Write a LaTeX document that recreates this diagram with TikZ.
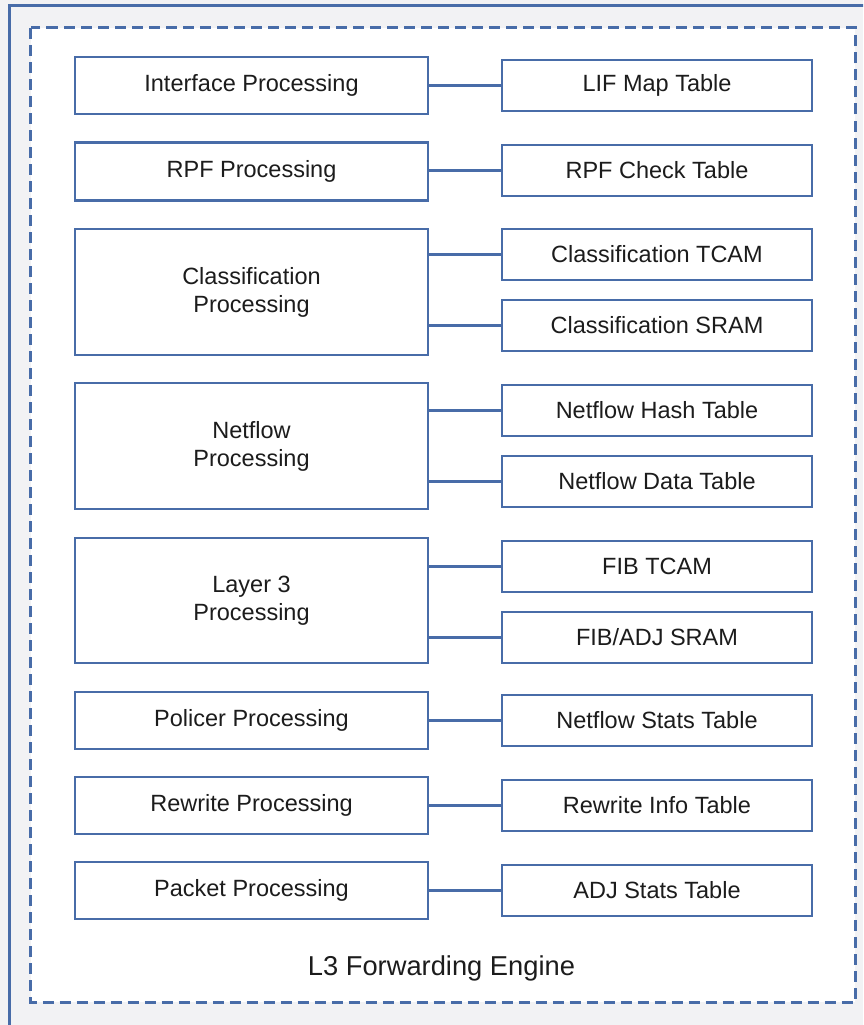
\documentclass[tikz,border=0pt]{standalone}
\usepackage{fontspec}
\setmainfont{Liberation Sans}
\definecolor{frameblue}{RGB}{72,108,168}
\definecolor{panelgrey}{RGB}{242,242,244}
\definecolor{inktext}{RGB}{28,28,28}
\tikzset{
  unitbox/.style={draw=frameblue, line width=2.8pt, fill=white, inner sep=0pt,
    align=center, text=inktext, font=\fontsize{23.5}{28}\selectfont},
  procbox/.style={unitbox, minimum width=353pt},
  tablebox/.style={unitbox, minimum width=310pt, minimum height=51pt},
  link/.style={draw=frameblue, line width=2.8pt}
}
\begin{document}
\begin{tikzpicture}[x=1pt, y=-1pt]
  \useasboundingbox (0,0) rectangle (863,1025);
  \clip (0,0) rectangle (863,1025);
  % outer panel
  \fill[panelgrey] (0,0) rectangle (863,1025);
  \draw[frameblue, line width=3pt] (9.5,6) rectangle (880,1040);
  % engine boundary
  \draw[frameblue, line width=3pt, fill=white, dash pattern=on 11pt off 6pt]
    (30.5,28) rectangle (855,1002);

  % processing stages (left column)
  \node[procbox, minimum height=57pt]  (ip)  at (251.5,85.5)  {Interface Processing};
  \node[procbox, minimum height=58pt]  (rpf) at (251.5,171.5) {RPF Processing};
  \node[procbox, minimum height=126pt] (cls) at (251.5,292)   {Classification\\Processing};
  \node[procbox, minimum height=126pt] (nf)  at (251.5,446)   {Netflow\\Processing};
  \node[procbox, minimum height=125pt] (l3)  at (251.5,600.5) {Layer 3\\Processing};
  \node[procbox, minimum height=57pt]  (pol) at (251.5,720.5) {Policer Processing};
  \node[procbox, minimum height=57pt]  (rw)  at (251.5,805.5) {Rewrite Processing};
  \node[procbox, minimum height=57pt]  (pkt) at (251.5,890.5) {Packet Processing};

  % lookup tables (right column)
  \node[tablebox] (lif)   at (657,85.5)  {LIF Map Table};
  \node[tablebox] (rpfc)  at (657,170.5) {RPF Check Table};
  \node[tablebox] (clt)   at (657,254.5) {Classification TCAM};
  \node[tablebox] (cls2)  at (657,325.5) {Classification SRAM};
  \node[tablebox] (nfh)   at (657,410.5) {Netflow Hash Table};
  \node[tablebox] (nfd)   at (657,481.5) {Netflow Data Table};
  \node[tablebox] (fibt)  at (657,566.5) {FIB TCAM};
  \node[tablebox] (fibs)  at (657,637.5) {FIB/ADJ SRAM};
  \node[tablebox] (nfs)   at (657,720.5) {Netflow Stats Table};
  \node[tablebox] (rwi)   at (657,805.5) {Rewrite Info Table};
  \node[tablebox] (adjs)  at (657,890.5) {ADJ Stats Table};

  % connections
  \path[link] (ip.east |- lif.west)  -- (lif.west);
  \path[link] (rpf.east |- rpfc.west) -- (rpfc.west);
  \path[link] (cls.east |- clt.west) -- (clt.west);
  \path[link] (cls.east |- cls2.west) -- (cls2.west);
  \path[link] (nf.east |- nfh.west)  -- (nfh.west);
  \path[link] (nf.east |- nfd.west)  -- (nfd.west);
  \path[link] (l3.east |- fibt.west) -- (fibt.west);
  \path[link] (l3.east |- fibs.west) -- (fibs.west);
  \path[link] (pol.east |- nfs.west) -- (nfs.west);
  \path[link] (rw.east |- rwi.west)  -- (rwi.west);
  \path[link] (pkt.east |- adjs.west) -- (adjs.west);

  % engine caption
  \node[text=inktext, font=\fontsize{27.3}{32}\selectfont, inner sep=0pt] (cap) at (441.5,968) {L3 Forwarding Engine};
\end{tikzpicture}
\end{document}
